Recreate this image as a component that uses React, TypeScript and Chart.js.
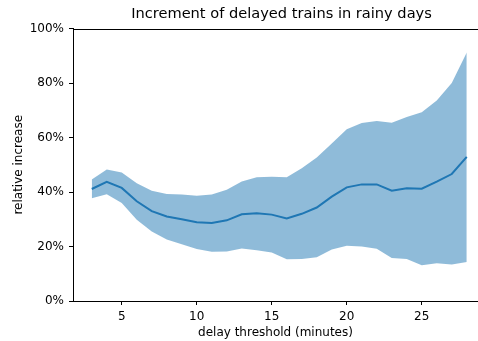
import React, { useEffect, useRef } from "react";
import { Chart, registerables } from "chart.js";

Chart.register(...registerables);

const thresholds = [3, 4, 5, 6, 7, 8, 9, 10, 11, 12, 13, 14, 15, 16, 17, 18, 19, 20, 21, 22, 23, 24, 25, 26, 27, 28];
const meanIncrease = [41.1, 43.7, 41.5, 36.6, 33.0, 31.0, 30.0, 28.9, 28.6, 29.6, 31.8, 32.2, 31.7, 30.3, 32.0, 34.3, 38.3, 41.7, 42.8, 42.8, 40.5, 41.4, 41.2, 43.8, 46.6, 52.9];
const upperBound = [44.6, 48.3, 47.2, 43.2, 40.5, 39.3, 39.1, 38.6, 39.1, 40.8, 43.9, 45.4, 45.6, 45.4, 48.7, 52.7, 57.8, 63.0, 65.3, 66.1, 65.4, 67.5, 69.3, 73.6, 80.0, 91.2];
const lowerBound = [37.7, 39.2, 36.0, 29.8, 25.5, 22.6, 20.8, 19.1, 18.1, 18.2, 19.3, 18.6, 17.8, 15.3, 15.4, 16.1, 18.9, 20.3, 20.0, 19.2, 15.8, 15.4, 13.1, 13.9, 13.4, 14.3];
const xTicks = [5, 10, 15, 20, 25];
const yTicks = [0, 20, 40, 60, 80, 100];

const FONT = "'DejaVu Sans', sans-serif";

export default function App() {
  const ref = useRef<HTMLCanvasElement | null>(null);
  useEffect(() => {
    document.body.style.margin = "0";
    const ctx = ref.current!;
    const topSpine = {
      id: "topSpine",
      afterLayout(chart: any) {
        const tb = chart.titleBlock;
        if (tb) {
          tb.left += 6;
          tb.right += 6;
        }
      },
      afterDraw(chart: any) {
        const { ctx: c, chartArea } = chart;
        c.save();
        c.strokeStyle = "#000";
        c.lineWidth = 1;
        c.beginPath();
        c.moveTo(chartArea.left, Math.round(chartArea.top) + 0.5);
        c.lineTo(chartArea.right, Math.round(chartArea.top) + 0.5);
        c.stroke();
        c.restore();
      },
    };
    const chart = new Chart(ctx, {
      type: "line",
      data: {
        datasets: [
          {
            label: "upper",
            data: thresholds.map((x, i) => ({ x, y: upperBound[i] })),
            borderWidth: 0,
            pointRadius: 0,
            backgroundColor: "rgba(31,119,180,0.5)",
            fill: "+1",
            order: 2,
          },
          {
            label: "lower",
            data: thresholds.map((x, i) => ({ x, y: lowerBound[i] })),
            borderWidth: 0,
            pointRadius: 0,
            fill: false,
            order: 2,
          },
          {
            label: "mean",
            data: thresholds.map((x, i) => ({ x, y: meanIncrease[i] })),
            borderColor: "#1f77b4",
            borderWidth: 2,
            pointRadius: 0,
            fill: false,
            order: 1,
          },
        ],
      },
      plugins: [topSpine],
      options: {
        animation: false,
        responsive: false,
        maintainAspectRatio: false,
        layout: { padding: { left: 8, right: 0, top: 0, bottom: 0 } },
        plugins: {
          legend: { display: false },
          tooltip: { enabled: false },
          title: {
            display: true,
            fullSize: false,
            text: "Increment of delayed trains in rainy days",
            color: "#000",
            font: { family: FONT, size: 14.6, weight: "normal", lineHeight: 1.2 },
            padding: { top: 5, bottom: 6 },
          },
        },
        scales: {
          x: {
            type: "linear",
            min: 1.75,
            max: 28.75,
            afterBuildTicks: (axis: any) => {
              axis.ticks = xTicks.map((v) => ({ value: v }));
            },
            afterFit: (axis: any) => {
              axis.height = 40;
            },
            ticks: { color: "#000", font: { family: FONT, size: 12 }, padding: 5, maxRotation: 0 },
            grid: { display: true, drawOnChartArea: false, drawTicks: true, tickLength: 4, color: "#000" },
            border: { display: true, color: "#000", width: 1 },
            title: {
              display: true,
              text: "delay threshold (minutes)",
              color: "#000",
              font: { family: FONT, size: 12 },
              padding: { top: 0, bottom: 1 },
            },
          },
          y: {
            type: "linear",
            min: 0,
            max: 100,
            afterBuildTicks: (axis: any) => {
              axis.ticks = yTicks.map((v) => ({ value: v }));
            },
            afterFit: (axis: any) => {
              axis.width = 65;
            },
            ticks: {
              color: "#000",
              font: { family: FONT, size: 12 },
              padding: 5,
              callback: (v: any) => v + "%",
            },
            grid: { display: true, drawOnChartArea: false, drawTicks: true, tickLength: 4, color: "#000" },
            border: { display: true, color: "#000", width: 1 },
            title: {
              display: true,
              text: "relative increase",
              color: "#000",
              font: { family: FONT, size: 12 },
              padding: { top: 4, bottom: 0 },
            },
          },
        },
      },
    });
    return () => chart.destroy();
  }, []);
  return (
    <div style={{ width: 478, height: 341 }}>
      <canvas ref={ref} width={478} height={341} style={{ display: "block", width: 478, height: 341 }} />
    </div>
  );
}
